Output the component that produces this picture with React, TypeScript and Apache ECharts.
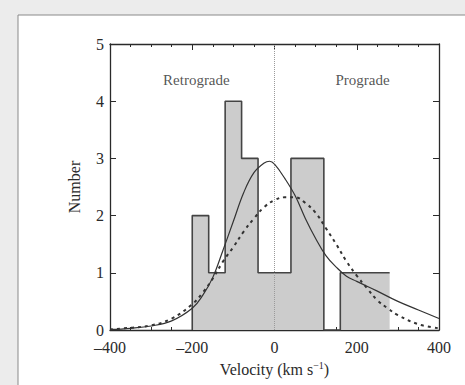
import React, { useEffect, useRef } from "react";
import * as echarts from "echarts";

// Histogram bins (left edges, width 40 km/s) and counts
const binEdges = [-200, -160, -120, -80, -40, 0, 40, 80, 120, 160, 200, 240, 280];
const binCounts = [2, 1, 4, 3, 1, 1, 3, 3, 0, 1, 1, 1];

// Solid fit curve
const solidV = [-400, -350, -300, -250, -200, -175, -150, -125, -100, -75, -50, -25, -12, 0, 25, 50, 75, 100, 125, 150, 175, 200, 250, 300, 350, 400];
const solidN = [0.01, 0.03, 0.07, 0.16, 0.38, 0.6, 0.92, 1.4, 1.9, 2.4, 2.75, 2.92, 2.95, 2.9, 2.65, 2.35, 1.95, 1.6, 1.3, 1.1, 0.94, 0.85, 0.68, 0.5, 0.35, 0.2];

// Dashed fit curve
const dashV = [-400, -350, -300, -250, -200, -175, -150, -125, -100, -75, -50, -25, 0, 25, 50, 75, 100, 125, 150, 175, 200, 225, 250, 275, 300, 350, 400];
const dashN = [0.01, 0.04, 0.08, 0.2, 0.45, 0.65, 0.9, 1.2, 1.45, 1.72, 1.95, 2.15, 2.27, 2.32, 2.32, 2.22, 2.05, 1.78, 1.5, 1.2, 0.95, 0.73, 0.52, 0.38, 0.26, 0.1, 0.03];

const xTicks = [-400, -200, 0, 200, 400];
const yTicks = [0, 1, 2, 3, 4, 5];

const regionLabels = [
  { name: "Retrograde", v: -190, n: 4.37 },
  { name: "Prograde", v: 214, n: 4.37 },
];

const SERIF = "'Liberation Serif', 'DejaVu Serif', serif";
const INK = "#2a2a2a";

export default function App() {
  const ref = useRef<HTMLDivElement>(null);

  useEffect(() => {
    if (!ref.current) return;
    const chart = echarts.init(ref.current, undefined, { renderer: "svg" });

    const histData: number[][] = [[binEdges[0], 0]];
    binEdges.forEach((e, i) => histData.push([e, binCounts[i]]));
    histData.push([binEdges[binEdges.length - 1] + 40, 0]);

    const fmt = (v: number) => (v < 0 ? "\u2013" + Math.abs(v) : String(v));

    const baseX = {
      type: "value" as const,
      min: xTicks[0],
      max: xTicks[xTicks.length - 1],
      interval: 200,
      splitLine: { show: false },
      axisLine: { show: true, onZero: false, lineStyle: { color: INK, width: 1.3 } },
      axisTick: { show: true, inside: true, length: 6, lineStyle: { color: INK, width: 1 } },
      minorTick: { show: true, splitNumber: 4, length: 3, lineStyle: { color: INK, width: 1 } },
    };
    const baseY = {
      type: "value" as const,
      min: yTicks[0],
      max: yTicks[yTicks.length - 1],
      interval: 1,
      splitLine: { show: false },
      axisLine: { show: true, onZero: false, lineStyle: { color: INK, width: 1.3 } },
      axisTick: { show: true, inside: true, length: 6, lineStyle: { color: INK, width: 1 } },
    };

    chart.setOption({
      animation: false,
      backgroundColor: "#ececec",
      graphic: [
        {
          type: "rect",
          z: -10,
          silent: true,
          shape: { x: 18, y: 15, width: 470, height: 390 },
          style: { fill: "#ffffff", stroke: "#8a8a8a", lineWidth: 1 },
        },
      ],
      grid: { left: 110, top: 44, right: 26, bottom: 55, show: false },
      xAxis: [
        {
          ...baseX,
          position: "bottom",
          axisLabel: { show: true, formatter: fmt, fontFamily: SERIF, fontSize: 16, color: INK, margin: 9 },
          name: "Velocity (km s{sup|\u22121})",
          nameLocation: "middle",
          nameGap: 30,
          nameTextStyle: {
            fontFamily: SERIF,
            fontSize: 16,
            color: INK,
            rich: { sup: { fontFamily: SERIF, fontSize: 10, color: INK, verticalAlign: "top", padding: [0, 0, 8, 0] } },
          },
        },
        { ...baseX, position: "top", axisLabel: { show: false } },
      ],
      yAxis: [
        {
          ...baseY,
          position: "left",
          axisLabel: { show: true, fontFamily: SERIF, fontSize: 16, color: INK, margin: 6 },
          name: "Number",
          nameLocation: "middle",
          nameGap: 28,
          nameTextStyle: { fontFamily: SERIF, fontSize: 16, color: INK },
        },
        { ...baseY, position: "right", axisLabel: { show: false } },
      ],
      series: [
        {
          type: "line",
          step: "end",
          data: histData,
          symbol: "none",
          lineStyle: { color: "#444", width: 1.6 },
          areaStyle: { color: "#cccccc", opacity: 1 },
          z: 2,
          markLine: {
            silent: true,
            symbol: ["none", "none"],
            label: { show: false },
            lineStyle: { color: "#9a9a9a", type: "dotted", width: 1 },
            data: [{ xAxis: 0 }],
          },
        },
        {
          type: "line",
          data: solidV.map((v, i) => [v, solidN[i]]),
          smooth: 0.4,
          symbol: "none",
          lineStyle: { color: "#333", width: 1.2 },
          z: 3,
        },
        {
          type: "line",
          data: dashV.map((v, i) => [v, dashN[i]]),
          smooth: 0.4,
          symbol: "none",
          lineStyle: { color: "#333", width: 2, type: [3, 4] },
          z: 3,
        },
        {
          type: "scatter",
          symbolSize: 0,
          data: regionLabels.map((r) => ({ name: r.name, value: [r.v, r.n] })),
          label: {
            show: true,
            position: "inside",
            formatter: (p: any) => p.name,
            fontFamily: SERIF,
            fontSize: 15,
            color: INK,
          },
          z: 4,
        },
      ],
    });

    return () => chart.dispose();
  }, []);

  return (
    <div style={{ position: "absolute", left: 0, top: 0, width: 465, height: 385 }}>
      <div ref={ref} style={{ width: 465, height: 385 }} />
    </div>
  );
}
